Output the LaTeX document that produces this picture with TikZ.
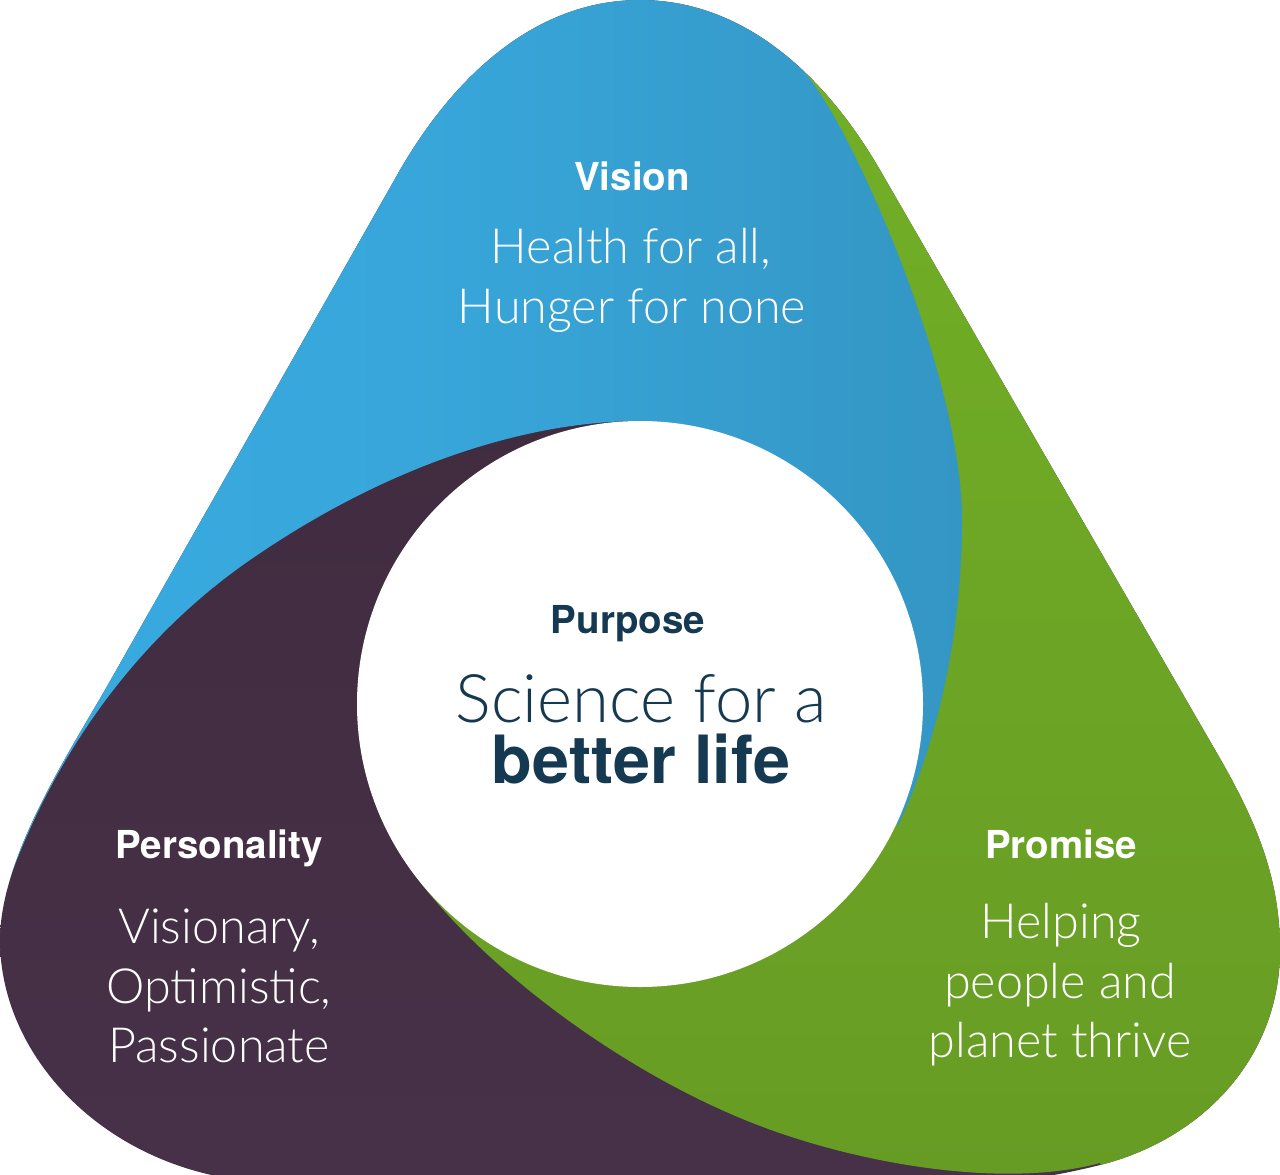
\documentclass[tikz,border=0pt]{standalone}
\usepackage{fontspec}
\setmainfont{TeX Gyre Heros}
\newfontfamily\lightfont{Lato Light}
\definecolor{blueL}{RGB}{57,172,226}
\definecolor{blueR}{RGB}{52,150,196}
\definecolor{greenT}{RGB}{115,177,38}
\definecolor{greenB}{RGB}{102,154,36}
\definecolor{purpT}{RGB}{60,40,58}
\definecolor{purpB}{RGB}{72,50,74}
\definecolor{navy}{RGB}{21,57,80}
\tikzset{
  headtext/.style={text=white, font=\bfseries\fontsize{38.5}{46}\selectfont, anchor=base, inner sep=0pt},
  bodytext/.style={text=white, font=\lightfont\fontsize{48.5}{58}\selectfont, anchor=base, inner sep=0pt},
}
\begin{document}
\begin{tikzpicture}[x=1pt,y=-1pt]
\useasboundingbox (0,0) rectangle (1280,1175);
\begin{scope}
\clip (640,0) .. controls (740,0) and (822,70) .. (880,170)
  -- (1218,755) .. controls (1258,824) and (1280,880) .. (1280,950)
  .. controls (1280,1060) and (1200,1140) .. (1100,1165)
  .. controls (1060,1175) and (1020,1182) .. (980,1182)
  -- (260,1182)
  .. controls (110,1172) and (0,1060) .. (0,940)
  .. controls (0,860) and (65,759) .. (105,690)
  -- (400,170)
  .. controls (458,70) and (540,0) .. (640,0) -- cycle;
% purple base
\shade[top color=purpT, bottom color=purpB] (-60,-60) rectangle (1400,1300);
% green petal
\shade[top color=greenT, bottom color=greenB]
  (799.3,67) -- (1400,-60) -- (1400,1300) -- (1150,1300) -- (1100,1163)
  .. controls (1000,1190) and (850,1162) .. (750,1122)
  .. controls (600,1062) and (450,940) .. (395,845)
  -- (640,704) -- cycle;
% blue petal
\shade[left color=blueL, right color=blueR, middle color=blueL!70!blueR]
  (640,421) .. controls (520,421) and (380,470) .. (250,560)
  .. controls (130,643) and (48,765) .. (4,895)
  -- (-60,900) -- (-60,-60) -- (740,-60) -- (799.3,67)
  .. controls (843.6,107.4) and (962,370) .. (962,520)
  .. controls (962,650) and (930,760) .. (898,825)
  -- (640,704) -- cycle;
\end{scope}
% centre circle
\fill[white] (640,704) circle[radius=283pt];

% texts
\node[headtext] (vision) at (632,190) {Vision};
\node[bodytext] (vis1) at (631,263) {Health for all,};
\node[bodytext] (vis2) at (632,323) {Hunger for none};

\node[headtext, text=navy] (purpose) at (628,633) {Purpose};
\node[bodytext, text=navy, font=\lightfont\fontsize{67}{70}\selectfont] (pur1) at (641,722) {Science for a};
\node[headtext, text=navy, font=\bfseries\fontsize{66.5}{70}\selectfont] (pur2) at (641,783) {better life};

\node[headtext] (personality) at (219,858) {Personality};
\node[bodytext] (per1) at (219,943) {Visionary,};
\node[bodytext] (per2) at (219,1003) {Optimistic,};
\node[bodytext] (per3) at (219,1062) {Passionate};

\node[headtext] (promise) at (1061,858) {Promise};
\node[bodytext] (pro1) at (1061,938) {Helping};
\node[bodytext] (pro2) at (1060,998) {people and};
\node[bodytext] (pro3) at (1060,1057) {planet thrive};
\end{tikzpicture}
\end{document}
